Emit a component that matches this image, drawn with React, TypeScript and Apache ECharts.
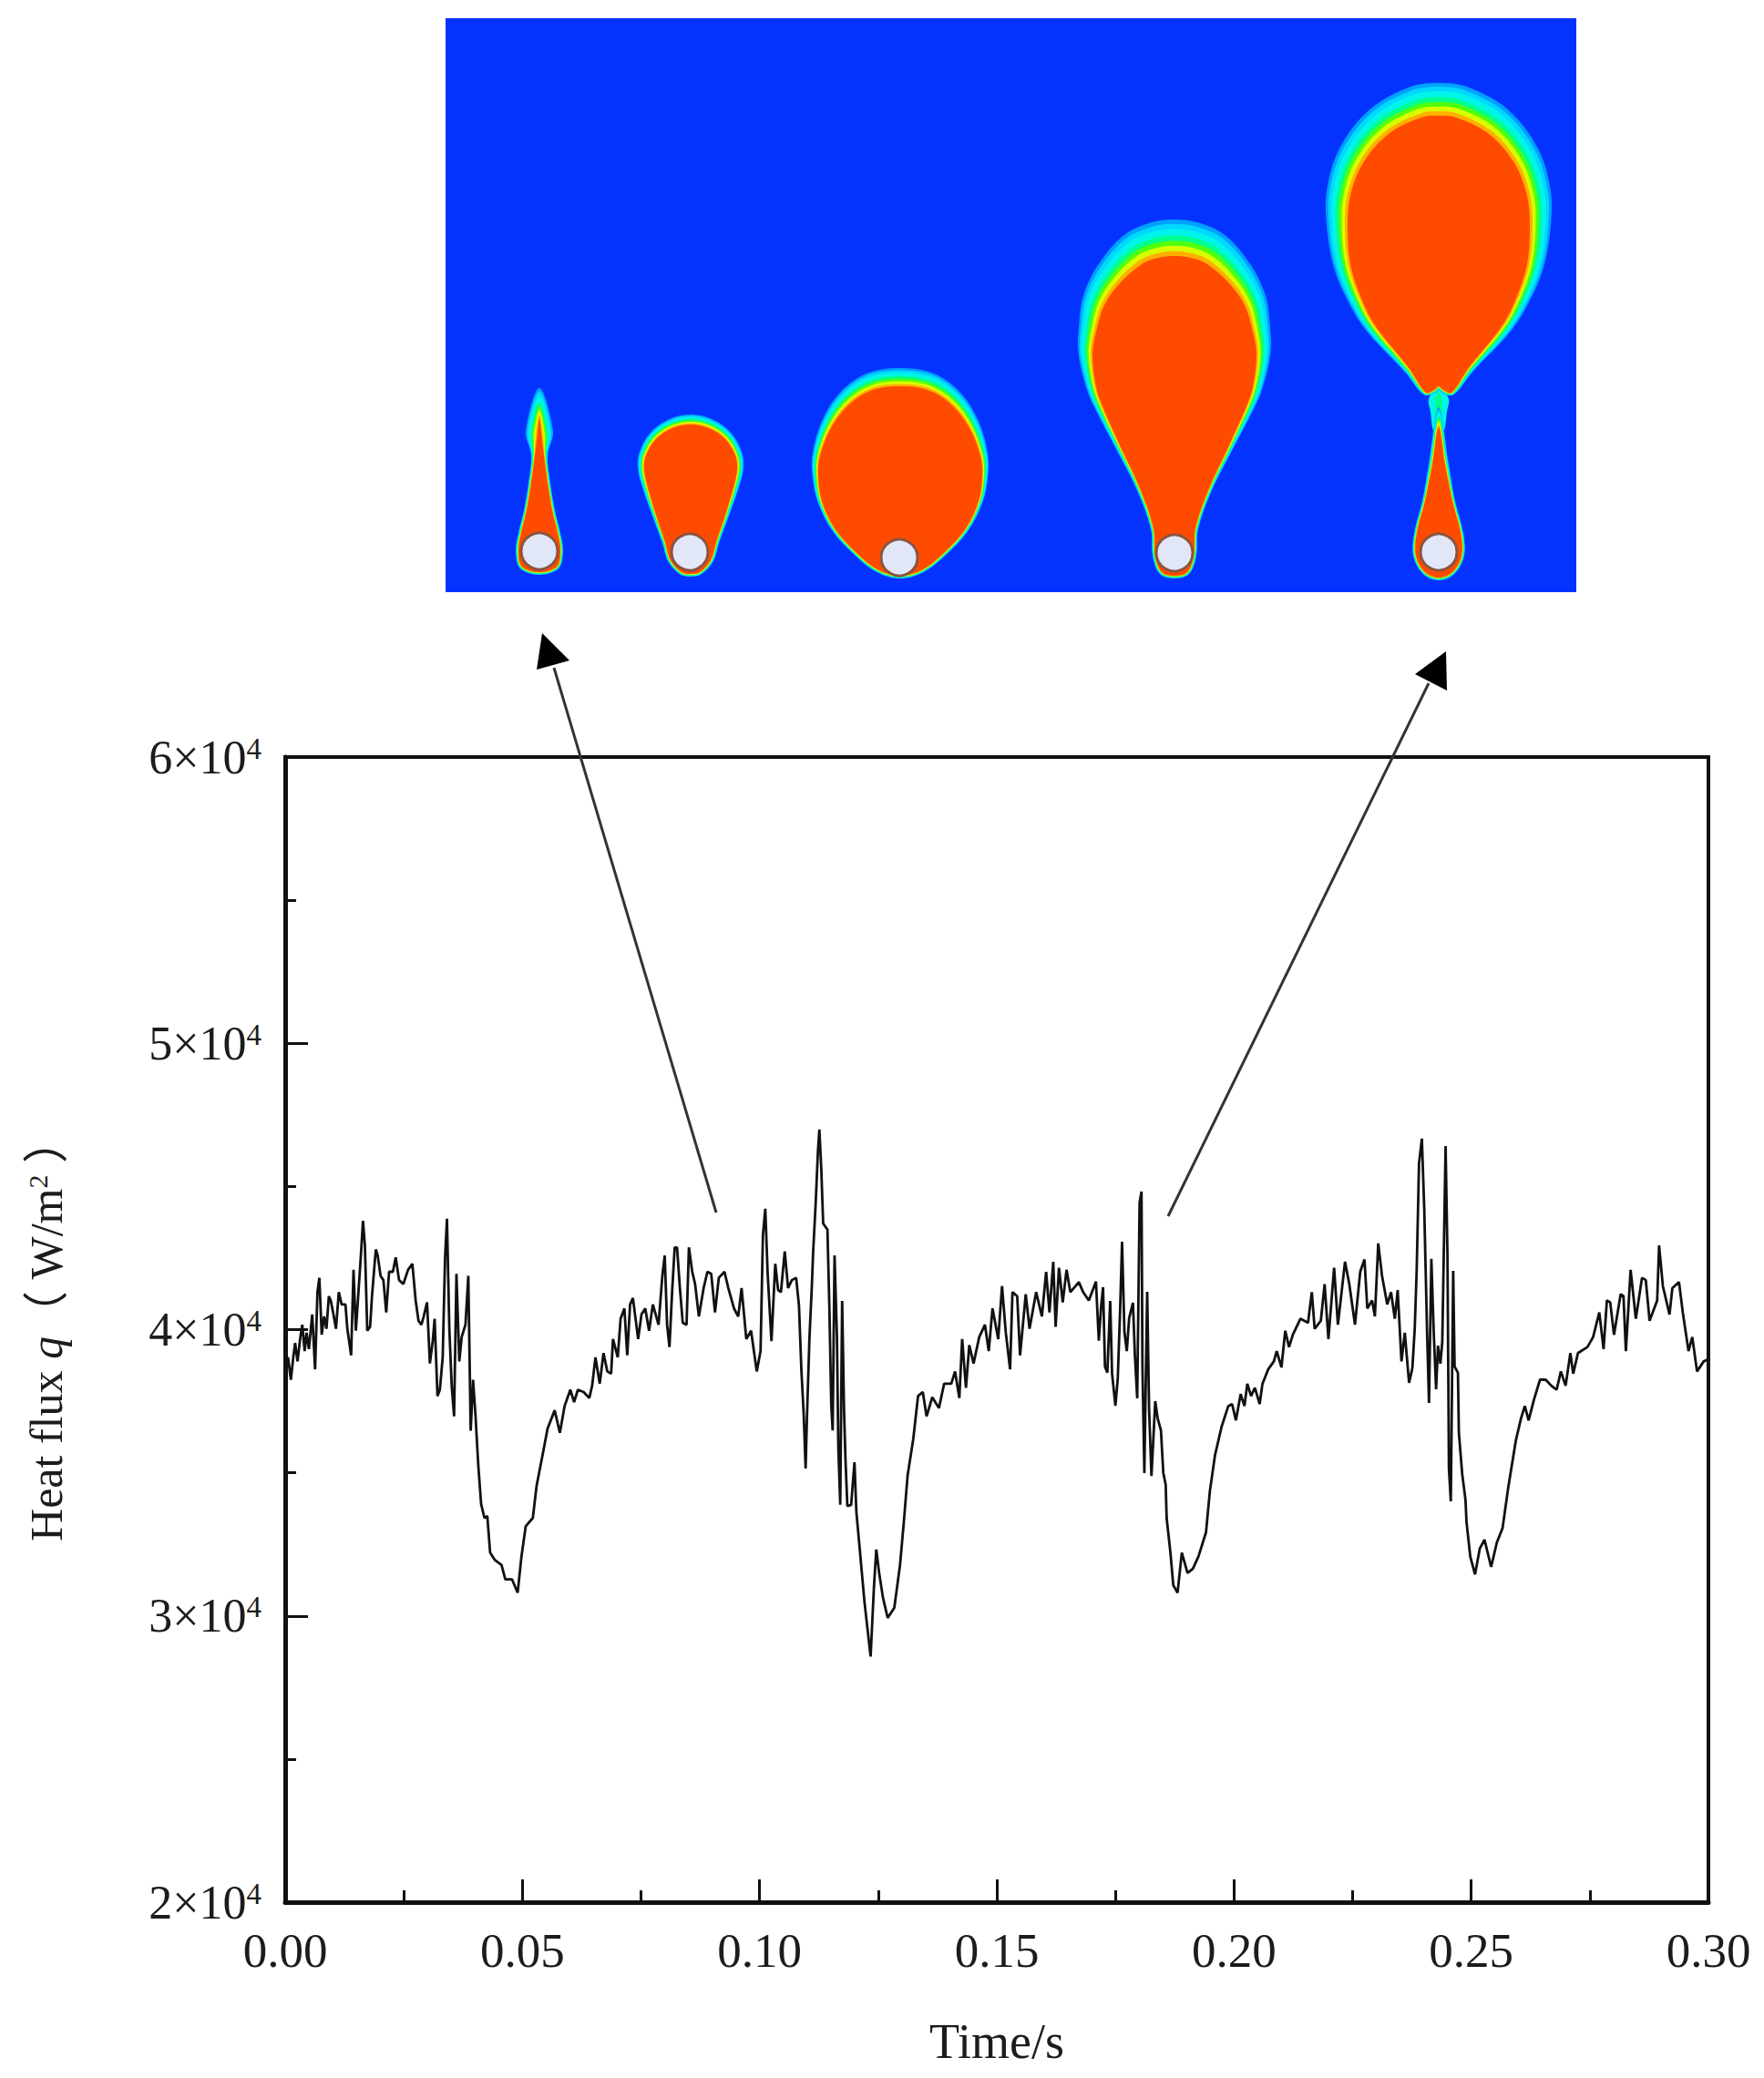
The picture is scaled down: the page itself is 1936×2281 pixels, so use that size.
import React, { useEffect, useRef } from 'react'
import * as echarts from 'echarts'

// [time in s, heat flux in W/m2], one list per bubble cycle
const cycleOne = [
  [0.0002, 38890], [0.0006, 39030], [0.0012, 38250], [0.0017, 39030], [0.0021, 39530], [0.0026, 38890], [0.0032, 39740], [0.0036, 40170],
  [0.0041, 39250], [0.0045, 39890], [0.005, 39320], [0.0057, 40530], [0.0063, 38610], [0.0068, 41310], [0.0072, 41810], [0.0077, 39820],
  [0.0082, 40460], [0.0087, 40030], [0.0092, 41170], [0.0096, 41020], [0.0101, 40600], [0.0107, 40030], [0.0113, 41310], [0.0119, 40880],
  [0.0127, 40880], [0.0131, 40030], [0.0139, 39100], [0.0144, 42090], [0.0149, 39960], [0.0159, 42450], [0.0164, 43800], [0.0168, 42940],
  [0.0173, 39960], [0.0179, 40100], [0.0183, 41170], [0.0191, 42800], [0.0195, 42590], [0.0201, 41880], [0.0207, 41730], [0.0213, 40600],
  [0.0219, 42020], [0.0227, 42020], [0.0233, 42520], [0.024, 41730], [0.0249, 41590], [0.0259, 42090], [0.0268, 42300], [0.0275, 41020],
  [0.0281, 40310], [0.0287, 40170], [0.0292, 40460], [0.0299, 40950], [0.0305, 38820], [0.0311, 39600], [0.0315, 40380], [0.0321, 37680],
  [0.0326, 37900], [0.0332, 39030], [0.0337, 42520], [0.0341, 43870], [0.0346, 40030], [0.0351, 38040], [0.0356, 36970], [0.0361, 41950],
  [0.0367, 38890], [0.0372, 39740], [0.038, 40170], [0.0386, 41880], [0.0391, 36470], [0.0396, 38250], [0.0401, 37040], [0.0407, 35260],
  [0.0413, 33910], [0.042, 33420], [0.0426, 33490], [0.0432, 32210], [0.0442, 31950], [0.0456, 31780], [0.0464, 31280], [0.0478, 31280],
  [0.049, 30810], [0.0498, 32070], [0.0507, 33130], [0.0522, 33420], [0.053, 34550], [0.0545, 35830], [0.0553, 36540], [0.0568, 37180],
  [0.0579, 36400], [0.0589, 37330], [0.0601, 37900], [0.0609, 37470], [0.0617, 37900], [0.0629, 37820], [0.0641, 37610], [0.0647, 38040],
]

const cycleTwo = [
  [0.0654, 39030], [0.0663, 38110], [0.0671, 39180], [0.0679, 38540], [0.0687, 38460], [0.0691, 39670], [0.0701, 39030], [0.0707, 40380],
  [0.0715, 40740], [0.0721, 39100], [0.0727, 40880], [0.0733, 41100], [0.0744, 39670], [0.0751, 40530], [0.0759, 40740], [0.0767, 39960],
  [0.0775, 40880], [0.0787, 40170], [0.0791, 41020], [0.0795, 41880], [0.08, 42590], [0.0805, 40170], [0.081, 39390], [0.0816, 41450],
  [0.0821, 42870], [0.0826, 42870], [0.0832, 41450], [0.0838, 40240], [0.0846, 40170], [0.0851, 42870], [0.0858, 42020], [0.0864, 41590],
  [0.0872, 40460], [0.0882, 41450], [0.089, 42020], [0.0898, 41950], [0.0906, 40600], [0.0914, 41810], [0.0926, 42020], [0.0934, 41450],
  [0.0946, 40740], [0.0955, 40460], [0.0962, 41450], [0.0972, 39670], [0.0982, 39960], [0.0994, 38540], [0.1002, 39250], [0.1007, 43300],
  [0.1012, 44220], [0.1017, 41950], [0.1025, 39600], [0.1033, 42300], [0.1039, 41380], [0.1045, 41310], [0.1053, 42730], [0.106, 41450],
  [0.1068, 41730], [0.1077, 41810], [0.1083, 40840], [0.1088, 38620], [0.1093, 37030], [0.1097, 35150], [0.11, 37030], [0.1105, 39670],
  [0.111, 41480], [0.1113, 42750], [0.1118, 44340], [0.1123, 46250], [0.1126, 46990], [0.113, 45620], [0.1134, 43710], [0.1143, 43490],
  [0.1147, 40840], [0.1151, 37380], [0.1154, 36480], [0.1158, 42590], [0.1163, 39770], [0.1166, 35850], [0.117, 33880], [0.1174, 41000],
  [0.1178, 37190], [0.1181, 35470], [0.1185, 33840], [0.1193, 33880], [0.1197, 34740], [0.12, 35370], [0.1204, 33620], [0.1211, 32350],
  [0.1221, 30500], [0.1234, 28580], [0.1241, 31000], [0.1246, 32320], [0.1252, 31500], [0.126, 30640], [0.127, 29930], [0.1284, 30290],
  [0.1296, 31780], [0.1304, 33270], [0.1312, 34910], [0.1324, 36190], [0.1334, 37680], [0.1344, 37820], [0.1352, 36970], [0.1364, 37640],
]

const cycleThree = [
  [0.1378, 37260], [0.1389, 38110], [0.1404, 38110], [0.1412, 38540], [0.1421, 37610], [0.1427, 39670], [0.1435, 37970], [0.1442, 39460],
  [0.1451, 38820], [0.1463, 39740], [0.1475, 40170], [0.1483, 39250], [0.1491, 40740], [0.1503, 39670], [0.1511, 41520], [0.1519, 39890],
  [0.1528, 38610], [0.1533, 41310], [0.1543, 41170], [0.1549, 39100], [0.1561, 41240], [0.1569, 40030], [0.1583, 41310], [0.1595, 40460],
  [0.1604, 42020], [0.1611, 40600], [0.1619, 42370], [0.1624, 40100], [0.1631, 42160], [0.1639, 40950], [0.1647, 42090], [0.1655, 41310],
  [0.1673, 41660], [0.1682, 41310], [0.1694, 41020], [0.1709, 41680], [0.1715, 39610], [0.172, 40840], [0.1724, 41480], [0.1728, 38710],
  [0.1733, 38500], [0.1739, 41000], [0.1743, 38460], [0.175, 37340], [0.1755, 38300], [0.176, 40720], [0.1764, 43070], [0.1769, 39920],
  [0.1774, 39250], [0.1779, 40400], [0.1787, 40940], [0.1791, 39130], [0.1796, 37600], [0.1801, 44440], [0.1805, 44820], [0.1807, 38710],
  [0.1811, 34990], [0.1817, 41320], [0.1821, 37220], [0.1826, 34890], [0.1834, 37500], [0.1839, 36900], [0.1846, 36480], [0.1851, 34990],
  [0.1856, 34580], [0.1858, 33420], [0.1866, 32210], [0.1872, 31070], [0.1881, 30810], [0.189, 32210], [0.1902, 31500], [0.1913, 31640],
  [0.1925, 32070], [0.1941, 32920], [0.1949, 34340], [0.196, 35620], [0.1974, 36620], [0.1988, 37330], [0.1996, 37400], [0.2004, 36830],
  [0.2014, 37750], [0.2022, 37330], [0.2028, 38110], [0.2036, 37680], [0.2044, 37970], [0.2054, 37400], [0.206, 38110],
]

const cycleFour = [
  [0.2072, 38610], [0.2084, 38890], [0.209, 39250], [0.21, 38680], [0.2108, 39960], [0.2116, 39390], [0.2124, 39820], [0.214, 40380],
  [0.2156, 40240], [0.2164, 41310], [0.217, 40030], [0.2183, 40310], [0.2191, 41590], [0.2199, 39670], [0.2211, 42160], [0.2219, 40170],
  [0.2234, 42370], [0.2243, 41590], [0.2255, 40170], [0.2266, 42020], [0.2275, 42450], [0.2281, 40740], [0.2291, 41020], [0.2297, 40460],
  [0.2304, 43010], [0.2312, 41880], [0.2323, 40880], [0.2331, 41310], [0.2339, 40380], [0.2345, 41380], [0.2353, 38890], [0.236, 39890],
  [0.2369, 38140], [0.2376, 38660], [0.2381, 40050], [0.2385, 42050], [0.239, 45810], [0.2396, 46670], [0.2401, 44220], [0.2407, 39890],
  [0.2411, 37440], [0.2416, 42470], [0.2421, 39890], [0.2426, 37920], [0.243, 39440], [0.2435, 38810], [0.2439, 39570], [0.2442, 42470],
  [0.2446, 46410], [0.245, 42530], [0.2453, 35150], [0.2457, 34000], [0.2462, 42050], [0.2465, 38710], [0.2472, 38490], [0.2474, 36390],
  [0.2481, 34960], [0.2488, 34040], [0.249, 33300], [0.2498, 32070], [0.2508, 31450], [0.2518, 32350], [0.2528, 32660],
  [0.2542, 31710], [0.2554, 32560], [0.2566, 33060], [0.2578, 34480], [0.2594, 36120], [0.2605, 36900], [0.2613, 37330], [0.2621, 36830],
  [0.2632, 37540], [0.2645, 38250], [0.2657, 38250], [0.2669, 38040], [0.268, 37900], [0.2689, 38540], [0.2699, 38040], [0.2709, 39180],
  [0.2715, 38460], [0.2725, 39180], [0.2745, 39390], [0.2757, 39740], [0.277, 40600], [0.2779, 39320], [0.2786, 41020], [0.2793, 40950],
  [0.2801, 39820], [0.2815, 41240], [0.2821, 41170], [0.2826, 39250], [0.2836, 42090], [0.2847, 40380], [0.286, 41810], [0.2868, 41730],
  [0.2876, 40310], [0.2892, 41020], [0.2896, 42940], [0.2904, 41520], [0.2918, 40530], [0.2924, 41450], [0.2938, 41660], [0.2946, 40600],
  [0.2958, 39250], [0.2966, 39740], [0.2976, 38540], [0.299, 38890], [0.2999, 38960],
]

const heatFlux = [...cycleOne, ...cycleTwo, ...cycleThree, ...cycleFour]

const serif = '"Liberation Serif", "Noto Sans CJK SC", serif'
const inkColor = '#111'
const textColor = '#1c1c1c'

// bubble sketch above the plot: half outlines as [dx, y] down the right side
const sketchBubbles = [
  { cx: 592, power: 12, top: 34, low: 3, half: [[0, 460], [2, 475], [5, 500], [9, 530], [14, 560], [20, 585], [23, 605], [19, 622], [0, 628]] },
  { cx: 758, power: 2, top: 11, low: 3, half: [[0, 466], [20, 470], [38, 482], [49, 500], [51, 515], [47, 535], [38, 565], [28, 595], [22, 615], [10, 628], [0, 630]] },
  { cx: 988, power: 2.5, top: 20, low: 3, half: [[0, 424], [30, 428], [55, 443], [75, 468], [88, 500], [90, 522], [86, 550], [72, 580], [50, 605], [25, 625], [0, 632]] },
  { cx: 1289, power: 3, top: 40, low: 3, half: [[0, 281], [18, 283], [36, 290], [61, 312], [77, 335], [85, 360], [90, 388], [86, 425], [79, 446], [59, 491], [38, 536], [23, 580], [21, 610], [14, 628], [0, 632]] },
  { cx: 1579, power: 1, top: 36, low: 4, half: [[0, 127], [19, 129], [55, 147], [83, 179], [97, 215], [100, 250], [97, 290], [86, 325], [70, 357], [32, 405], [14, 431], [5, 428], [0, 424]] },
  { cx: 1579, power: 10, top: 22, low: 3, half: [[0, 469], [7, 510], [15, 550], [24, 585], [25, 610], [15, 628], [0, 634]] },
]
const sketchLayers = [
  [1, '#00a0ff'], [0.88, '#00d8ff'], [0.74, '#00f5e8'], [0.56, '#00ff90'], [0.42, '#50ff10'],
  [0.28, '#d8ff00'], [0.13, '#ffb000'], [0, '#ff4b00'],
]
const neckOuter = [[1579, 422], [1590, 438], [1588, 452], [1584, 475], [1574, 475], [1570, 452], [1568, 438]]
const neckInner = [[1579, 430], [1583, 440], [1582, 456], [1579, 468], [1576, 456], [1575, 440]]
const sketchCircles = [[592, 605], [757, 606], [987, 612], [1289, 607], [1579, 606]]

function outline(b: any, scale: number) {
  const right = b.half.map(([dx, y]: number[]) => [b.cx + dx, y])
  const left = b.half.slice(1, -1).reverse().map(([dx, y]: number[]) => [b.cx - dx, y])
  const pts = [...right, ...left]
  const yTop = b.half[0][1]
  const yBot = b.half[b.half.length - 1][1]
  return pts.map((p: number[], i: number) => {
    const prev = pts[(i - 1 + pts.length) % pts.length]
    const next = pts[(i + 1) % pts.length]
    const dx = next[0] - prev[0]
    const dy = next[1] - prev[1]
    const len = Math.hypot(dx, dy) || 1
    const frac = Math.pow((yBot - p[1]) / (yBot - yTop), b.power)
    const d = (b.low + (b.top - b.low) * frac) * scale
    return [p[0] + (dy / len) * d, p[1] - (dx / len) * d]
  })
}

function sketchElements() {
  const items: any[] = [
    { type: 'rect', z: 10, shape: { x: 489, y: 20, width: 1241, height: 630 }, style: { fill: '#0433ff' } },
    { type: 'polygon', z: 13, shape: { points: neckOuter, smooth: 0.3 }, style: { fill: '#00f5e8' } },
    { type: 'polygon', z: 14, shape: { points: neckInner, smooth: 0.3 }, style: { fill: '#00ff90' } },
  ]
  sketchLayers.forEach(([scale, color]: any, i) => {
    sketchBubbles.forEach((b) => {
      items.push({
        type: 'polygon',
        z: 15 + i,
        shape: { points: outline(b, scale), smooth: 0.35 },
        style: { fill: color },
      })
    })
  })
  sketchCircles.forEach(([x, y]) => {
    items.push({
      type: 'circle',
      z: 30,
      shape: { cx: x, cy: y, r: 20 },
      style: { fill: '#e1e7f7', stroke: '#8a5440', lineWidth: 3 },
    })
  })
  return items
}

function arrowElements() {
  return [
    { type: 'line', z: 40, shape: { x1: 786, y1: 1331, x2: 608, y2: 733 }, style: { stroke: '#333', lineWidth: 3 } },
    { type: 'polygon', z: 40, shape: { points: [[595, 695], [625, 725], [589, 735]] }, style: { fill: '#000' } },
    { type: 'line', z: 40, shape: { x1: 1282, y1: 1335, x2: 1568, y2: 750 }, style: { stroke: '#333', lineWidth: 3 } },
    { type: 'polygon', z: 40, shape: { points: [[1587, 715], [1588, 758], [1553, 740]] }, style: { fill: '#000' } },
  ]
}

function App() {
  const chartRef = useRef<HTMLDivElement>(null)

  useEffect(() => {
    const chart = echarts.init(chartRef.current, null, { renderer: 'svg' })

    chart.setOption({
      animation: false,
      backgroundColor: '#fff',
      grid: {
        left: 313,
        right: 61,
        top: 831,
        bottom: 193,
        show: true,
        borderColor: inkColor,
        borderWidth: 4,
      },
      xAxis: {
        type: 'value',
        min: 0,
        max: 0.3,
        interval: 0.05,
        name: 'Time/s',
        nameLocation: 'middle',
        nameGap: 126,
        nameTextStyle: { fontFamily: serif, fontSize: 54, color: textColor },
        splitLine: { show: false },
        axisLine: { lineStyle: { color: inkColor, width: 5 } },
        axisTick: { inside: true, length: 25, lineStyle: { color: inkColor, width: 3 } },
        minorTick: { show: true, splitNumber: 2, length: 13, lineStyle: { color: inkColor, width: 3 } },
        axisLabel: {
          margin: 26,
          fontFamily: serif,
          fontSize: 53,
          color: textColor,
          formatter: (v: number) => v.toFixed(2),
        },
      },
      yAxis: {
        type: 'value',
        min: 20000,
        max: 60000,
        interval: 10000,
        name: '{a|Heat flux }{q|q}{a|（ W/m}{s|2}{a| ）}',
        nameLocation: 'middle',
        nameGap: 237,
        nameRotate: 90,
        nameTextStyle: {
          rich: {
            a: { fontFamily: serif, fontSize: 50, color: textColor },
            q: { fontFamily: serif, fontSize: 50, fontStyle: 'italic', color: textColor },
            s: { fontFamily: serif, fontSize: 30, color: textColor, verticalAlign: 'top' },
          },
        },
        splitLine: { show: false },
        axisLine: { lineStyle: { color: inkColor, width: 5 } },
        axisTick: { inside: true, length: 25, lineStyle: { color: inkColor, width: 3 } },
        minorTick: { show: true, splitNumber: 2, length: 12, lineStyle: { color: inkColor, width: 3 } },
        axisLabel: {
          margin: 26,
          formatter: (v: number) => `{b|${v / 10000}×10}{s|4}`,
          rich: {
            b: { fontFamily: serif, fontSize: 52, color: textColor },
            s: { fontFamily: serif, fontSize: 33, color: textColor, verticalAlign: 'top' },
          },
        },
      },
      series: [
        {
          type: 'line',
          data: heatFlux,
          showSymbol: false,
          lineStyle: { color: '#111', width: 2.8 },
        },
      ],
      graphic: [...sketchElements(), ...arrowElements()],
    })

    return () => {
      chart.dispose()
    }
  }, [])

  return (
    <div
      ref={chartRef}
      style={{ position: 'absolute', left: 0, top: 0, width: 1936, height: 2281 }}
    ></div>
  )
}

export default App
